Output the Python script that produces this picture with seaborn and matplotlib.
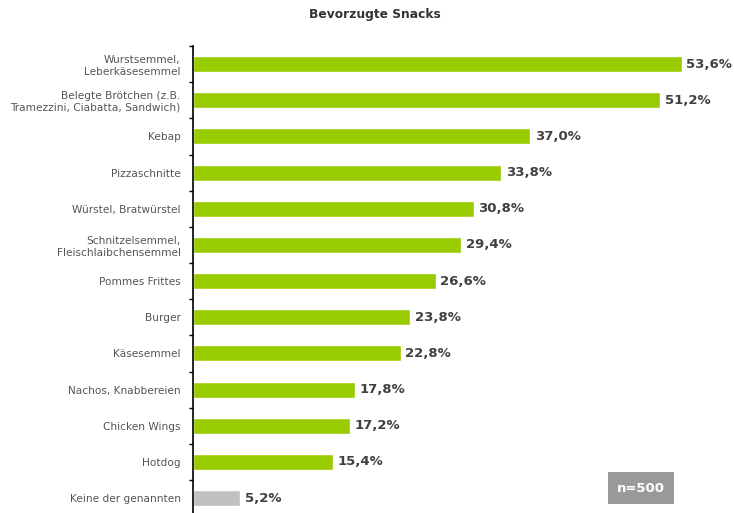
import matplotlib
matplotlib.use("Agg")
import matplotlib.pyplot as plt
from matplotlib.ticker import FixedLocator
import seaborn as sns
import pandas as pd

# ── Data ───────────────────────────────────────────────────
snacks = ["Wurstsemmel,\nLeberkäsesemmel",
          "Belegte Brötchen (z.B.\nTramezzini, Ciabatta, Sandwich)",
          "Kebap", "Pizzaschnitte", "Würstel, Bratwürstel",
          "Schnitzelsemmel,\nFleischlaibchensemmel",
          "Pommes Frittes", "Burger", "Käsesemmel",
          "Nachos, Knabbereien", "Chicken Wings", "Hotdog",
          "Keine der genannten"]
share = [53.6, 51.2, 37.0, 33.8, 30.8, 29.4, 26.6, 23.8, 22.8, 17.8, 17.2, 15.4, 5.2]
bar_colors = ["#99CC00"] * 12 + ["#C0C0C0"]

df = pd.DataFrame({"Snack": snacks, "Anteil": share})

sns.set_style("white")
plt.rcParams["font.family"] = ["DejaVu Sans"]

fig = plt.figure(figsize=(7.34, 5.13), dpi=100)
ax = fig.add_axes([193 / 734, 0, 1 - 193 / 734, (513 - 46) / 513])

sns.barplot(data=df, x="Anteil", y="Snack", hue="Snack",
            palette=bar_colors, legend=False, width=0.44,
            saturation=1, ax=ax)

ax.set_xlim(0, (734 - 193) / 9.12)
ax.set_ylim((513 - 46) / 36.17 - 0.5, -0.5)
ax.set_xlabel("")
ax.set_ylabel("")
ax.set_xticks([])

for s in ["top", "right", "bottom"]:
    ax.spines[s].set_visible(False)
ax.spines["left"].set_color("black")
ax.spines["left"].set_linewidth(1.2)

ax.tick_params(axis="y", which="major", left=False, length=0, pad=9,
               labelsize=7.6, labelcolor="#555555")
ax.yaxis.set_minor_locator(FixedLocator([i - 0.5 for i in range(len(snacks) + 1)]))
ax.tick_params(axis="y", which="minor", left=True, direction="out",
               length=3, width=1, color="black")
for lbl in ax.get_yticklabels():
    lbl.set_horizontalalignment("right")
    lbl.set_multialignment("right")

for i, v in enumerate(share):
    ax.text(v + 0.5, i, f"{v:.1f}%".replace(".", ","), va="center", ha="left",
            fontsize=9.5, fontweight="bold", color="#404040")

fig.text(375 / 734, 1 - 15 / 513, "Bevorzugte Snacks", ha="center", va="center",
         fontsize=8.8, fontweight="bold", color="#333333")

fig.text(641 / 734, 1 - 488 / 513, "n=500", ha="center", va="center",
         fontsize=9.5, fontweight="bold", color="white",
         bbox=dict(boxstyle="square,pad=0.7", facecolor="#999999", edgecolor="none"))

fig.savefig("out.png", dpi=100)
